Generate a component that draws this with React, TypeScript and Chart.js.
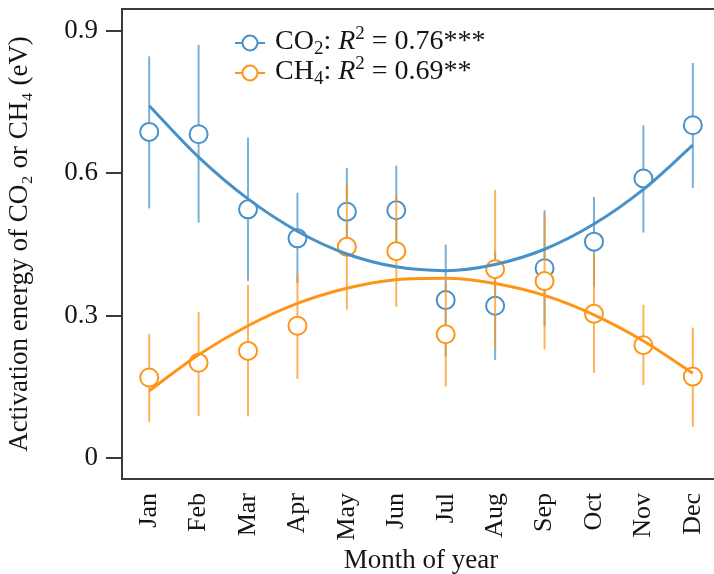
import React, { useEffect, useRef } from 'react';
import { Chart, registerables } from 'chart.js';

Chart.register(...registerables);

// ---- data ----
const months = ['Jan', 'Feb', 'Mar', 'Apr', 'May', 'Jun', 'Jul', 'Aug', 'Sep', 'Oct', 'Nov', 'Dec'];
const monthNumbers = [1, 2, 3, 4, 5, 6, 7, 8, 9, 10, 11, 12];

const co2Mean = [0.687, 0.682, 0.524, 0.463, 0.519, 0.522, 0.333, 0.321, 0.400, 0.456, 0.589, 0.701];
const co2Low = [0.526, 0.496, 0.373, 0.369, 0.440, 0.440, 0.214, 0.207, 0.278, 0.361, 0.475, 0.569];
const co2High = [0.846, 0.870, 0.675, 0.559, 0.611, 0.616, 0.450, 0.435, 0.522, 0.550, 0.701, 0.832];
const co2Fit = [0.742, 0.634, 0.546, 0.478, 0.430, 0.403, 0.395, 0.408, 0.440, 0.493, 0.566, 0.659];

const ch4Mean = [0.170, 0.201, 0.226, 0.279, 0.445, 0.436, 0.261, 0.398, 0.373, 0.304, 0.238, 0.172];
const ch4Low = [0.077, 0.089, 0.088, 0.167, 0.313, 0.319, 0.151, 0.232, 0.229, 0.180, 0.154, 0.066];
const ch4High = [0.262, 0.308, 0.365, 0.389, 0.579, 0.554, 0.368, 0.565, 0.515, 0.430, 0.323, 0.275];
const ch4Fit = [0.142, 0.218, 0.279, 0.326, 0.358, 0.376, 0.379, 0.368, 0.343, 0.302, 0.247, 0.179];

const yTickValues = [0, 0.3, 0.6, 0.9];
const co2Legend = { gas: 'CO', sub: '2', r2: ' = 0.76***' };
const ch4Legend = { gas: 'CH', sub: '4', r2: ' = 0.69**' };

// ---- style ----
const FONT = "'Liberation Serif', 'Times New Roman', serif";
const BLUE = 'rgb(72,145,200)';
const BLUE_BAR = 'rgba(72,145,200,0.72)';
const ORANGE = 'rgb(255,149,24)';
const ORANGE_BAR = 'rgba(255,149,24,0.72)';
const AXIS = '#3a3a3a';
const TEXT = '#151515';

// plot-area frame (layout, in canvas pixels)
const AREA = { left: 122, top: 9, right: 720, bottom: 479 };
const CANVAS_W = 724;
const CANVAS_H = 574;

const pts = (vals: number[]) => vals.map((v, i) => ({ x: monthNumbers[i], y: v }));

const fixedAreaPlugin = {
  id: 'fixedArea',
  afterLayout(chart: any) {
    const { left, top, right, bottom } = AREA;
    const ca = chart.chartArea;
    ca.left = left;
    ca.top = top;
    ca.right = right;
    ca.bottom = bottom;
    ca.width = right - left;
    ca.height = bottom - top;
    const x = chart.scales.x;
    const y = chart.scales.y;
    x.left = left;
    x.right = right;
    x.width = right - left;
    x.top = bottom;
    x.bottom = CANVAS_H;
    x.height = CANVAS_H - bottom;
    y.left = 0;
    y.right = left;
    y.width = left;
    y.top = top;
    y.bottom = bottom;
    y.height = bottom - top;
    x.configure();
    y.configure();
  },
};

const errorBarPlugin = {
  id: 'errorBars',
  beforeDatasetDraw(chart: any, args: any) {
    const ds = chart.data.datasets[args.index];
    if (!ds.errLow) return;
    const { ctx, chartArea } = chart;
    const x = chart.scales.x;
    const y = chart.scales.y;
    ctx.save();
    ctx.beginPath();
    ctx.rect(chartArea.left, chartArea.top, chartArea.right - chartArea.left, chartArea.bottom - chartArea.top);
    ctx.clip();
    ctx.strokeStyle = ds.errColor;
    ctx.lineWidth = 2;
    ds.data.forEach((p: any, i: number) => {
      const px = x.getPixelForValue(p.x);
      ctx.beginPath();
      ctx.moveTo(px, y.getPixelForValue(ds.errLow[i]));
      ctx.lineTo(px, y.getPixelForValue(ds.errHigh[i]));
      ctx.stroke();
    });
    ctx.restore();
  },
};

const framePlugin = {
  id: 'frame',
  afterDraw(chart: any) {
    const { ctx, chartArea } = chart;
    ctx.save();
    ctx.strokeStyle = AXIS;
    ctx.lineWidth = 2;
    ctx.strokeRect(chartArea.left, chartArea.top, chartArea.right - chartArea.left, chartArea.bottom - chartArea.top);
    ctx.restore();
  },
};

const legendPlugin = {
  id: 'customLegend',
  afterDraw(chart: any) {
    const { ctx } = chart;
    const size = 28;
    const small = 19;
    const rows = [
      { item: co2Legend, color: BLUE, cy: 43 },
      { item: ch4Legend, color: ORANGE, cy: 73 },
    ];
    ctx.save();
    rows.forEach(({ item, color, cy }) => {
      // marker
      ctx.strokeStyle = color;
      ctx.lineWidth = 2;
      ctx.beginPath();
      ctx.moveTo(235, cy);
      ctx.lineTo(265, cy);
      ctx.stroke();
      ctx.beginPath();
      ctx.arc(250, cy, 7.5, 0, Math.PI * 2);
      ctx.fillStyle = '#fff';
      ctx.fill();
      ctx.stroke();
      // text
      const base = cy + 6;
      let tx = 275;
      ctx.fillStyle = TEXT;
      ctx.textBaseline = 'alphabetic';
      ctx.textAlign = 'left';
      const seg = (t: string, font: string, dy: number) => {
        ctx.font = font;
        ctx.fillText(t, tx, base + dy);
        tx += ctx.measureText(t).width;
      };
      seg(item.gas, `${size}px ${FONT}`, 0);
      seg(item.sub, `${small}px ${FONT}`, 5);
      seg(': ', `${size}px ${FONT}`, 0);
      seg('R', `italic ${size}px ${FONT}`, 0);
      seg('2', `${small}px ${FONT}`, -10);
      seg(item.r2, `${size}px ${FONT}`, 0);
    });
    ctx.restore();
  },
};

export default function App() {
  const canvasRef = useRef<HTMLCanvasElement | null>(null);

  useEffect(() => {
    if (!canvasRef.current) return;
    const chart = new Chart(canvasRef.current, {
      type: 'line',
      data: {
        datasets: [
          {
            label: 'CO2',
            data: pts(co2Mean),
            showLine: false,
            pointRadius: 9,
            pointBorderWidth: 2,
            pointBackgroundColor: '#fff',
            pointBorderColor: BLUE,
            borderColor: BLUE,
            order: 4,
            errLow: co2Low,
            errHigh: co2High,
            errColor: BLUE_BAR,
          } as any,
          {
            label: 'CH4',
            data: pts(ch4Mean),
            showLine: false,
            pointRadius: 9,
            pointBorderWidth: 2,
            pointBackgroundColor: '#fff',
            pointBorderColor: ORANGE,
            borderColor: ORANGE,
            order: 3,
            errLow: ch4Low,
            errHigh: ch4High,
            errColor: ORANGE_BAR,
          } as any,
          {
            label: 'CO2 fit',
            data: pts(co2Fit),
            borderColor: BLUE,
            borderWidth: 3,
            pointRadius: 0,
            cubicInterpolationMode: 'monotone',
            fill: false,
            order: 2,
          },
          {
            label: 'CH4 fit',
            data: pts(ch4Fit),
            borderColor: ORANGE,
            borderWidth: 3,
            pointRadius: 0,
            cubicInterpolationMode: 'monotone',
            fill: false,
            order: 1,
          },
        ],
      },
      options: {
        responsive: false,
        animation: false,
        events: [],
        layout: { padding: { left: 0, top: 9, right: 4, bottom: 0 } },
        plugins: {
          legend: { display: false },
          tooltip: { enabled: false },
        },
        scales: {
          x: {
            type: 'linear',
            min: 0.45,
            max: 12.55,
            grid: { display: false, drawTicks: false },
            border: { display: false },
            afterBuildTicks: (scale: any) => {
              scale.ticks = monthNumbers.map((v) => ({ value: v }));
            },
            afterFit: (scale: any) => {
              scale.height = 95;
              scale.paddingLeft = 0;
              scale.paddingRight = 0;
            },
            ticks: {
              autoSkip: false,
              minRotation: 90,
              maxRotation: 90,
              padding: 14,
              color: TEXT,
              font: { family: FONT, size: 26 },
              callback: (v: any) => months[Number(v) - 1] ?? '',
            },
            title: {
              display: true,
              text: 'Month of year',
              color: TEXT,
              font: { family: FONT, size: 27 },
              padding: { top: 0, bottom: -3 },
            },
          },
          y: {
            type: 'linear',
            min: -0.0436,
            max: 0.9457,
            grid: { display: true, drawOnChartArea: false, drawTicks: true, tickLength: 16, color: AXIS, lineWidth: 2 },
            border: { display: false },
            afterBuildTicks: (scale: any) => {
              scale.ticks = yTickValues.map((v) => ({ value: v }));
            },
            afterFit: (scale: any) => {
              scale.width = 122;
              scale.paddingTop = 0;
              scale.paddingBottom = 0;
            },
            ticks: {
              padding: 8,
              color: TEXT,
              font: { family: FONT, size: 27 },
              callback: (v: any) => (Number(v) === 0 ? '0' : Number(v).toFixed(1)),
            },
            title: {
              display: true,
              text: 'Activation energy of CO₂ or CH₄ (eV)',
              color: TEXT,
              font: { family: FONT, size: 27 },
              padding: { top: 4, bottom: 0 },
            },
          },
        },
      },
      plugins: [fixedAreaPlugin, errorBarPlugin, framePlugin, legendPlugin],
    });
    return () => chart.destroy();
  }, []);

  return (
    <div
      style={{
        position: 'fixed',
        left: 0,
        top: 0,
        width: 714,
        height: 574,
        overflow: 'hidden',
        background: '#fff',
      }}
    >
      <canvas ref={canvasRef} width={CANVAS_W} height={CANVAS_H} style={{ display: 'block' }} />
    </div>
  );
}
